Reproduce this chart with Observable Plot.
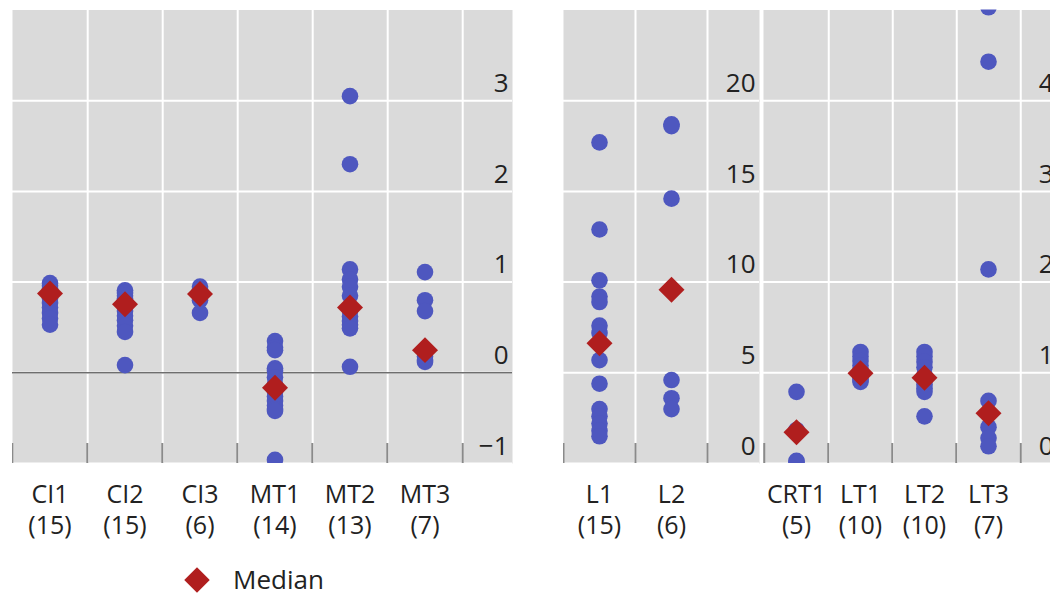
<!DOCTYPE html>
<html><head><meta charset="utf-8">
<script src="https://cdn.jsdelivr.net/npm/d3@7"></script>
<script src="https://cdn.jsdelivr.net/npm/@observablehq/plot@0.6"></script>
<style>
html,body{margin:0;padding:0;background:#fff;overflow:hidden;width:1050px;height:593px;position:relative;}
#wrap{position:absolute;left:0;top:0;width:1050px;height:550px;overflow:hidden;font-family:"Open Sans",sans-serif;}
#legend{position:absolute;left:188px;top:562px;display:flex;align-items:center;font-size:26px;line-height:35px;color:#222;font-family:"Open Sans",sans-serif;white-space:nowrap;}
#legend .dia{width:18px;height:18px;background:#b01e1e;transform:rotate(45deg);margin-right:27px;flex:none;}
</style></head>
<body><div id="wrap"></div><div id="legend"><div class="dia"></div><span>Median</span></div>
<script>
// ---- Data ----
const leftCats = ["CI1", "CI2", "CI3", "MT1", "MT2", "MT3"];
const leftCounts = [15, 15, 6, 14, 13, 7];
const leftValues = [
  [0.99, 0.96, 0.93, 0.91, 0.89, 0.88, 0.88, 0.875, 0.86, 0.82, 0.77, 0.72, 0.66, 0.60, 0.53],
  [0.91, 0.88, 0.85, 0.82, 0.80, 0.78, 0.76, 0.75, 0.72, 0.68, 0.63, 0.58, 0.52, 0.45, 0.085],
  [0.95, 0.92, 0.89, 0.85, 0.80, 0.66],
  [0.35, 0.28, 0.25, 0.05, 0.02, -0.05, -0.12, -0.21, -0.26, -0.31, -0.36, -0.40, -0.42, -0.96],
  [3.05, 2.30, 1.14, 1.03, 0.95, 0.85, 0.72, 0.68, 0.62, 0.57, 0.53, 0.49, 0.066],
  [1.11, 0.80, 0.68, 0.25, 0.18, 0.14, 0.12]
];
const leftMedians = [0.875, 0.755, 0.87, -0.165, 0.72, 0.25];
const leftTicks = [-1, 0, 1, 2, 3];

const midCats = ["L1", "L2"];
const midCounts = [15, 6];
const midValues = [
  [17.7, 12.9, 10.1, 9.2, 8.9, 7.6, 7.2, 6.6, 5.7, 4.4, 3.0, 2.6, 2.2, 1.8, 1.5],
  [18.7, 18.6, 14.6, 4.6, 3.6, 3.0]
];
const midMedians = [6.63, 9.58];
const midTicks = [0, 5, 10, 15, 20];

const rightCats = ["CRT1", "LT1", "LT2", "LT3"];
const rightCounts = [5, 10, 10, 7];
const rightValues = [
  [0.79, 0.37, 0.34, 0.03, 0.02],
  [1.23, 1.18, 1.13, 1.08, 1.03, 0.99, 0.97, 0.95, 0.92, 0.90],
  [1.23, 1.18, 1.12, 1.06, 0.98, 0.91, 0.87, 0.83, 0.79, 0.52],
  [5.03, 4.43, 2.14, 0.69, 0.40, 0.28, 0.19]
];
const rightMedians = [0.345, 0.996, 0.945, 0.555];
const rightTicks = [0, 1, 2, 3, 4];

// ---- Styling ----
const BLUE = "#4e57bf", RED = "#b01e1e", BG = "#dadada", TXT = "#222";
const FONT = "Open Sans, sans-serif";
const H = 550, TOP = 9.5, BOTTOM = 463;

function fmt(d) { return d < 0 ? "\u2212" + Math.abs(d) : String(d); }

function panel(o) {
  const {cats, counts, values, medians, domain, ticks, left, width, marginLeft, marginRight, bandStart, band, zero} = o;
  const dots = cats.flatMap((c, i) => values[i].map(v => ({cat: c, v})));
  const meds = cats.map((c, i) => ({cat: c, v: medians[i]}));
  const tickLen = (domain[1] - domain[0]) * 20 / (BOTTOM - TOP);
  const last = cats[cats.length - 1];
  const marks = [
    Plot.frame({fill: BG, stroke: "none"}),
    Plot.ruleY(ticks, {y: d => d, stroke: "white", strokeWidth: 2}),
    Plot.ruleX(cats, {x: d => d, dx: band / 2, stroke: "white", strokeWidth: 2}),
    Plot.ruleX(cats, {x: d => d, dx: -band / 2, y1: domain[0], y2: domain[0] + tickLen, stroke: "#8a8a8a", strokeWidth: 2, clip: true}),
    Plot.ruleX([last], {x: d => d, dx: band / 2, y1: domain[0], y2: domain[0] + tickLen, stroke: "#8a8a8a", strokeWidth: 2})
  ];
  if (zero) marks.push(Plot.ruleY([0], {stroke: "#6e6e6e", strokeWidth: 1.6}));
  marks.push(
    Plot.dot(dots, {x: "cat", y: "v", r: 8.3, fill: BLUE, clip: true}),
    Plot.dot(meds, {x: "cat", y: "v", r: 11.7, symbol: "diamond2", fill: RED, clip: true}),
    Plot.text(ticks, {y: d => d, text: d => fmt(d), frameAnchor: "right", textAnchor: "end", dx: -4, dy: -17, fontSize: 26, fontFamily: FONT, fill: TXT}),
    Plot.text(cats, {x: d => d, text: (d, i) => `${d}\n(${counts[i]})`, frameAnchor: "bottom", lineAnchor: "top", dy: 17, fontSize: 25, lineHeight: 1.24, fontFamily: FONT, fill: TXT})
  );
  const chart = Plot.plot({
    width, height: H,
    marginLeft, marginRight, marginTop: TOP, marginBottom: H - BOTTOM,
    style: {background: "transparent", fontFamily: FONT, maxWidth: "none", overflow: "visible"},
    x: {type: "band", domain: cats, range: [bandStart, bandStart + band * cats.length], padding: 0, axis: null},
    y: {domain, axis: null},
    marks
  });
  chart.style.position = "absolute";
  chart.style.left = left + "px";
  chart.style.top = "0px";
  document.getElementById("wrap").appendChild(chart);
}

panel({cats: leftCats, counts: leftCounts, values: leftValues, medians: leftMedians, domain: [-1, 4], ticks: leftTicks,
  left: 0, width: 537, marginLeft: 12, marginRight: 25, bandStart: 10.5, band: 75.4, zero: true});
panel({cats: midCats, counts: midCounts, values: midValues, medians: midMedians, domain: [0, 25], ticks: midTicks,
  left: 537, width: 224, marginLeft: 26, marginRight: 2, bandStart: 26, band: 72, zero: false});
panel({cats: rightCats, counts: rightCounts, values: rightValues, medians: rightMedians, domain: [0, 5], ticks: rightTicks,
  left: 761, width: 300, marginLeft: 2, marginRight: 4, bandStart: 2, band: 64.5, zero: false});
</script>
</body></html>
